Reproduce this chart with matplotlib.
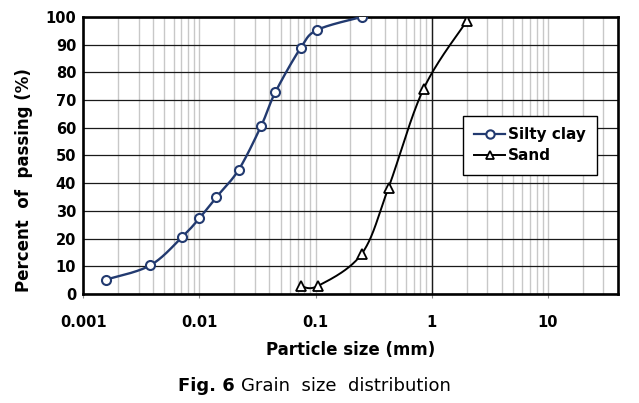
import numpy as np
import matplotlib.pyplot as plt
from matplotlib.lines import Line2D
from matplotlib.ticker import FixedLocator, NullFormatter

# grain size data
clay_size = [0.00158, 0.00377, 0.0071, 0.0100, 0.0140, 0.0218, 0.0341, 0.0451, 0.0745, 0.1035, 0.249]
clay_pass = [5.2, 10.3, 20.5, 27.3, 34.9, 44.8, 60.7, 72.8, 88.8, 95.3, 100.0]
sand_size = [0.075, 0.106, 0.25, 0.425, 0.85, 2.0]
sand_pass = [2.8, 3.0, 14.5, 38.4, 74.0, 98.5]

x_ticks = [0.001, 0.01, 0.1, 1, 10]
x_labels = ["0.001", "0.01", "0.1", "1", "10"]
y_ticks = list(range(0, 101, 10))

navy = "#223a70"
bold_font = "DejaVu Sans"
cap_font = "DejaVu Sans"


def smooth(xs, ys, n=40):
    # excel-like smoothed line (catmull-rom in log-x / y space)
    lx = np.log10(xs)
    y = np.asarray(ys, dtype=float)
    px = np.r_[lx[0], lx, lx[-1]]
    py = np.r_[y[0], y, y[-1]]
    t = np.linspace(0, 1, n)
    ox, oy = [], []
    for i in range(len(lx) - 1):
        for p, out in ((px, ox), (py, oy)):
            p0, p1, p2, p3 = p[i:i + 4]
            out.append(0.5 * (2 * p1 + (-p0 + p2) * t
                              + (2 * p0 - 5 * p1 + 4 * p2 - p3) * t ** 2
                              + (-p0 + 3 * p1 - 3 * p2 + p3) * t ** 3))
    return 10 ** np.concatenate(ox), np.concatenate(oy)


fig = plt.figure(figsize=(6.39, 4.03), dpi=100)
ax = fig.add_axes([0.13, 0.2705, 0.837, 0.6875])

ax.set_xscale("log")
ax.set_xlim(0.001, 40)
ax.set_ylim(0, 100)

# grid
ax.xaxis.set_major_locator(FixedLocator(x_ticks))
ax.xaxis.set_minor_locator(FixedLocator([m * 10.0 ** e for e in range(-3, 2) for m in range(2, 10) if m * 10.0 ** e < 40]))
ax.xaxis.set_minor_formatter(NullFormatter())
ax.set_xticklabels(x_labels)
ax.set_yticks(y_ticks)
ax.grid(which="both", axis="x", color="#c8c8c8", lw=1.0)
ax.grid(which="major", axis="y", color="#1a1a1a", lw=0.9)
ax.axvline(1, color="#1a1a1a", lw=1.0)
ax.set_axisbelow(True)

sx, sy = smooth(clay_size, clay_pass)
ax.plot(sx, sy, color=navy, lw=1.7, zorder=3)
ax.plot(clay_size, clay_pass, ls="none", marker="o", ms=6.5, mfc="white", mec=navy, mew=1.5, zorder=4)
sx, sy = smooth(sand_size, sand_pass)
ax.plot(sx, sy, color="black", lw=1.4, zorder=3)
ax.plot(sand_size, sand_pass, ls="none", marker="^", ms=6.5, mfc="white", mec="black", mew=1.3, zorder=4)

for s in ax.spines.values():
    s.set_linewidth(1.9)
    s.set_color("black")

ax.tick_params(axis="y", which="both", length=0, pad=5)
ax.tick_params(axis="x", which="major", length=3, width=0.8, color="#888888", pad=12)
ax.tick_params(axis="x", which="minor", length=0)
for lab in ax.get_xticklabels() + ax.get_yticklabels():
    lab.set_family(bold_font)
    lab.set_fontweight("bold")
    lab.set_fontsize(10.5)

ax.set_xlabel("Particle size (mm)", family=bold_font, fontweight="bold", fontsize=12, labelpad=8)
ax.set_ylabel("Percent  of  passing (%)", family=bold_font, fontweight="bold", fontsize=12)
ax.yaxis.set_label_coords(-0.094, 0.41)

handles = [
    Line2D([], [], color=navy, lw=1.6, marker="o", ms=6, mfc="white", mec=navy, mew=1.5),
    Line2D([], [], color="black", lw=1.4, marker="^", ms=6, mfc="white", mec="black", mew=1.3),
]
leg = ax.legend(handles, ["Silty clay", "Sand"], loc="upper left", bbox_to_anchor=(0.71, 0.643),
                borderaxespad=0, fancybox=False, framealpha=1, edgecolor="black", handlelength=2.0,
                handletextpad=0.2, borderpad=0.75, labelspacing=0.4,
                prop={"family": bold_font, "weight": "bold", "size": 11})
leg.get_frame().set_linewidth(1.0)

# caption, "Fig. 6" in bold
r = fig.canvas.get_renderer()
t1 = fig.text(0.279, 0.03, "Fig. 6", family=cap_font, fontweight="bold", fontsize=13, va="baseline")
bb = t1.get_window_extent(r)
fig.text(bb.x1 / fig.bbox.width + 0.01, 0.03, "Grain  size  distribution", family=cap_font,
         fontsize=13, va="baseline")

fig.savefig("out.png", dpi=100)
